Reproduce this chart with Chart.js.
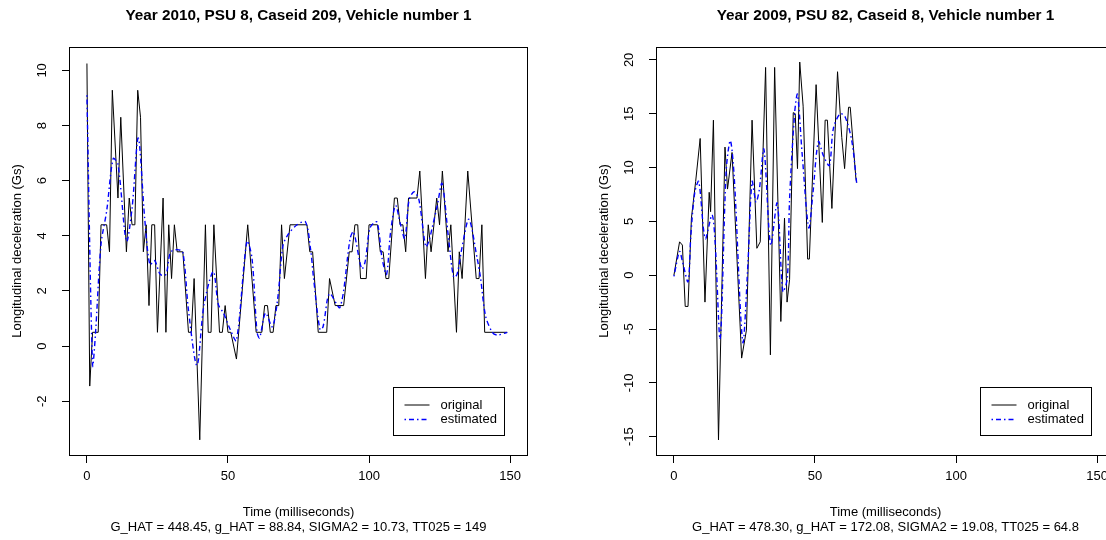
<!DOCTYPE html>
<html>
<head>
<meta charset="utf-8">
<script src="https://cdn.jsdelivr.net/npm/chart.js@4.4.1/dist/chart.umd.min.js"></script>
<style>
  html, body { margin: 0; padding: 0; background: #fff; overflow: hidden; width: 1106px; height: 540px; position: relative; }
  canvas { position: absolute; top: 0; }
  #chart2010 { left: 0; }
  #chart2009 { left: 587px; }
</style>
</head>
<body>
<canvas id="chart2010" width="553" height="540"></canvas>
<canvas id="chart2009" width="553" height="540"></canvas>
<script>
// tick labels
const xTicks = [0, 50, 100, 150];
const yTicks2010 = [-2, 0, 2, 4, 6, 8, 10];
const yTicks2009 = [-15, -10, -5, 0, 5, 10, 15, 20];

// Year 2010, PSU 8, Caseid 209 - original
const timeOrig2010 = [0, 1, 2, 4, 5, 7, 8, 9, 11, 12, 14, 15, 16, 17, 18, 19, 20, 21, 22, 23,
  24, 25, 27, 28, 29, 30, 31, 32, 34, 36, 37, 38, 40, 42, 43, 44, 45, 47, 48, 49,
  50, 51, 53, 57, 60, 62, 63, 64, 65, 66, 67, 68, 69, 70, 72, 78, 79, 80, 82, 85,
  86, 88, 91, 93, 94, 95, 96, 97, 99, 100, 103, 104, 105, 106, 107, 109, 110, 111, 112, 113,
  114, 117, 118, 120, 121, 122, 124, 125, 126, 128, 129, 131, 132, 133, 135, 138, 139, 140, 141, 149];
const accOrig2010 = [10.25, -1.45, 0.5, 0.5, 4.4, 4.4, 3.42, 9.28, 5.37, 8.3, 3.42, 5.37, 4.4, 4.4, 9.28, 8.3, 3.42, 4.4, 1.47, 4.4,
  4.4, 0.5, 5.37, 0.5, 4.4, 2.45, 4.4, 3.42, 3.42, 0.5, 0.5, 2.45, -3.4, 4.4, 0.5, 0.5, 4.4, 0.5, 0.5, 1.47,
  0.5, 0.5, -0.47, 4.4, 0.5, 0.5, 1.47, 1.47, 0.5, 0.5, 1.47, 1.47, 4.4, 2.45, 4.4, 4.4, 3.42, 3.42, 0.5, 0.5,
  2.45, 1.47, 1.47, 3.42, 3.42, 4.4, 4.4, 2.45, 2.45, 4.4, 4.4, 3.42, 3.42, 2.45, 2.45, 5.37, 5.37, 4.4, 4.4, 3.42,
  5.37, 5.37, 6.35, 2.45, 4.4, 3.42, 5.37, 4.4, 6.35, 3.42, 4.4, 0.5, 3.42, 2.45, 6.35, 2.45, 2.45, 4.4, 0.5, 0.5];

// Year 2010 - estimated
const timeEst2010 = [0, 2, 3, 5, 7, 9.3, 11, 14, 16, 18.2, 20.5, 22.3, 24, 26, 28, 29.6, 32, 34, 36, 39,
  41.5, 44.8, 46.6, 48.4, 50.8, 53, 56.7, 58.5, 60.3, 61.2, 63.3, 65.7, 67.6, 69.4, 71, 74.5, 77.5, 79.3, 80.3, 82.6,
  83.7, 86, 89.7, 93.3, 94.5, 97.4, 98.6, 100.4, 102.8, 104.6, 106.2, 107.6, 109.4, 111.2, 112.7, 114.2, 116, 117.7, 120.1, 121.2,
  122.4, 124.2, 125.9, 128.3, 130, 131.2, 133, 135.4, 138.3, 139.5, 141.3, 143.7, 145.5, 149];
const accEst2010 = [9.1, -0.7, 0.4, 3.7, 4.9, 6.8, 6.6, 3.8, 5.0, 7.55, 4.6, 2.95, 3.1, 2.6, 2.6, 3.4, 3.5, 3.4, 1.3, -0.7,
  1.5, 2.7, 1.5, 1.2, 0.6, 0.2, 3.8, 3.2, 0.5, 0.3, 1.2, 0.7, 1.7, 3.6, 4.0, 4.4, 4.5, 3.5, 2.5, 0.6,
  0.7, 1.9, 1.4, 3.9, 4.15, 2.8, 3.05, 4.3, 4.5, 3.2, 2.6, 4.1, 5.1, 4.4, 3.9, 5.3, 5.6, 5.3, 3.6, 3.8,
  4.3, 5.1, 5.9, 3.8, 2.5, 2.6, 3.6, 4.6, 3.2, 2.5, 1.1, 0.5, 0.4, 0.5];

// Year 2009, PSU 82, Caseid 8 - original
const timeOrig2009 = [0, 2, 3, 4, 5, 6.2, 7.7, 9.3, 11, 12.5, 13, 14, 15.8, 18.1, 19, 20.6, 24, 25.7, 27.7, 29.4,
  30.6, 32.5, 34.2, 35.7, 37.9, 39.2, 40.1, 41, 42.3, 43, 43.8, 44.6, 45.8, 47.4, 48, 50.4, 52.6, 53.6, 54.4, 56,
  58, 59.5, 60.5, 61.9, 62.5, 64.5, 64.8];
const accOrig2009 = [0, 3.1, 2.8, -2.9, -2.9, 5.3, 8.7, 12.7, -2.5, 7.7, 5.9, 14.4, -15.3, 11.9, 8.0, 11.4, -7.7, -5.1, 14.4, 2.5,
  3.1, 19.3, -7.4, 19.3, -4.3, 5.3, -2.5, -0.4, 15.1, 15.0, 9.9, 19.8, 15.7, 1.5, 1.5, 17.7, 4.9, 14.4, 14.4, 6.2,
  18.9, 12.8, 9.9, 15.6, 15.6, 9.0, 8.6];

// Year 2009 - estimated
const timeEst2009 = [0, 2, 3, 5, 6, 7.4, 8.8, 11.1, 13.5, 14.6, 16.4, 18.5, 20, 21.4, 24.4, 26.2, 27.7, 29.1, 30.3, 31.9,
  34.3, 36.6, 38.6, 40.2, 41, 42.8, 43.8, 45.5, 47.8, 49.3, 51.2, 53, 55.1, 56.5, 58.9, 60.7, 63.1, 64.8];
const accEst2009 = [-0.1, 2.2, 1.3, -0.6, 3.7, 7.7, 8.7, 3.4, 5.6, 3.1, -5.9, 9.6, 12.5, 9.0, -6.2, 0.9, 8.7, 6.8, 8.0, 11.7,
  2.8, 6.7, -1.5, -0.3, 7.1, 15.1, 16.8, 11.1, 4.4, 7.7, 12.4, 11.1, 10.2, 13.6, 15.0, 14.7, 12.4, 8.5];

Chart.defaults.font.family = '"Liberation Sans", Arial, Helvetica, sans-serif';
Chart.defaults.font.size = 13;
Chart.defaults.color = '#000';

// box round the plot region, like R's box()
const frame = {
  id: 'frame',
  afterDraw(chart) {
    const { ctx, chartArea: a } = chart;
    ctx.save();
    ctx.strokeStyle = '#000';
    ctx.lineWidth = 1;
    ctx.strokeRect(Math.round(a.left) - 0.5, Math.round(a.top) + 0.5,
      Math.round(a.right - a.left) + 1, Math.round(a.bottom - a.top));
    ctx.restore();
  }
};

// legend("bottomright") inside the plot
const boxLegend = {
  id: 'boxLegend',
  afterDraw(chart) {
    const { ctx, chartArea: a } = chart;
    const w = 111, h = 48;
    const x0 = Math.round(a.right - 23 - w), y0 = Math.round(a.bottom - 20 - h);
    ctx.save();
    ctx.fillStyle = '#fff';
    ctx.fillRect(x0, y0, w, h);
    ctx.strokeStyle = '#000';
    ctx.lineWidth = 1;
    ctx.strokeRect(x0 + 0.5, y0 + 0.5, w, h);
    chart.data.datasets.forEach((ds, i) => {
      const y = y0 + 18 + i * 14.5;
      ctx.setLineDash(ds.borderDash || []);
      ctx.strokeStyle = ds.borderColor;
      ctx.lineWidth = ds.borderWidth;
      ctx.beginPath();
      ctx.moveTo(x0 + 11.5, y);
      ctx.lineTo(x0 + 36.5, y);
      ctx.stroke();
      ctx.setLineDash([]);
      ctx.fillStyle = '#000';
      ctx.font = '13px "Liberation Sans", Arial, sans-serif';
      ctx.textBaseline = 'middle';
      ctx.fillText(ds.label, x0 + 47.5, y);
    });
    ctx.restore();
  }
};

function points(xs, ys) {
  return xs.map((x, i) => ({ x, y: ys[i] }));
}

function makeChart(id, title, stats, orig, est, yTicks, yMin, yMax, yTickPad) {
  return new Chart(document.getElementById(id), {
    type: 'line',
    data: {
      datasets: [
        { label: 'original', data: points(orig[0], orig[1]), borderColor: '#000', borderWidth: 1,
          pointRadius: 0, tension: 0, order: 1 },
        { label: 'estimated', data: points(est[0], est[1]), borderColor: '#0000ff', borderWidth: 1.4,
          borderDash: [1.5, 3, 5, 3], pointRadius: 0, tension: 0.3, order: 0 }
      ]
    },
    options: {
      responsive: false,
      animation: false,
      devicePixelRatio: 1,
      layout: { padding: { left: 0, top: 0, right: 26, bottom: 0 } },
      plugins: {
        legend: { display: false },
        tooltip: { enabled: false },
        title: {
          display: true, text: title, fullSize: false, color: '#000',
          font: { size: 15.3, weight: 'bold', lineHeight: 1.2 },
          padding: { top: 6.8, bottom: 21.8 }
        }
      },
      scales: {
        x: {
          type: 'linear', min: -6, max: 156,
          afterBuildTicks: s => { s.ticks = xTicks.map(v => ({ value: v })); },
          afterFit: s => { s.height = 85; },
          grid: { drawOnChartArea: false, tickLength: 8, color: '#000' },
          border: { display: false },
          ticks: { padding: 6, autoSkip: false, maxRotation: 0, color: '#000' },
          title: {
            display: true, text: ['Time (milliseconds)', stats], color: '#000',
            font: { size: 13, lineHeight: 1.185 },
            padding: { top: 0, bottom: 4.9 }
          }
        },
        y: {
          type: 'linear', min: yMin, max: yMax,
          afterBuildTicks: s => { s.ticks = yTicks.map(v => ({ value: v })); },
          afterFit: s => { s.width = 70; },
          grid: { drawOnChartArea: false, tickLength: 8, color: '#000' },
          border: { display: false },
          ticks: { minRotation: 90, maxRotation: 90, crossAlign: 'center', padding: yTickPad, color: '#000' },
          title: {
            display: true, text: 'Longitudinal deceleration (Gs)', color: '#000',
            font: { size: 13, lineHeight: 1.2 },
            padding: { top: 9.2, bottom: 0 }
          }
        }
      }
    },
    plugins: [frame, boxLegend]
  });
}

makeChart('chart2010', 'Year 2010, PSU 8, Caseid 209, Vehicle number 1',
  'G_HAT = 448.45, g_HAT = 88.84, SIGMA2 = 10.73, TT025 = 149',
  [timeOrig2010, accOrig2010], [timeEst2010, accEst2010], yTicks2010, -3.95, 10.85, 12.8);

makeChart('chart2009', 'Year 2009, PSU 82, Caseid 8, Vehicle number 1',
  'G_HAT = 478.30, g_HAT = 172.08, SIGMA2 = 19.08, TT025 = 64.8',
  [timeOrig2009, accOrig2009], [timeEst2009, accEst2009], yTicks2009, -16.7, 21.2, 10.6);
</script>
</body>
</html>
